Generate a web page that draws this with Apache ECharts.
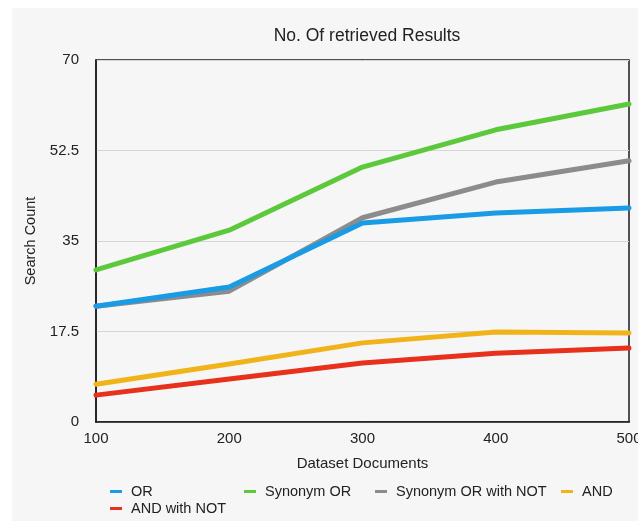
<!DOCTYPE html>
<html>
<head>
<meta charset="utf-8">
<script src="https://cdn.jsdelivr.net/npm/echarts@6/dist/echarts.min.js"></script>
<style>
  html, body { margin: 0; padding: 0; background: #ffffff; }
  #chart { width: 638px; height: 521px; }
</style>
</head>
<body>
<div id="chart"></div>
<script>
// Dataset sizes (x axis) and search counts per query type
const categories = ['100', '200', '300', '400', '500'];
const orValues = [22.4, 26.1, 38.5, 40.4, 41.4];
const synonymOrValues = [29.4, 37.1, 49.3, 56.5, 61.5];
const synonymOrNotValues = [22.4, 25.3, 39.5, 46.4, 50.5];
const andValues = [7.3, 11.2, 15.3, 17.4, 17.2];
const andNotValues = [5.2, 8.3, 11.4, 13.3, 14.3];
const yTicks = [0, 17.5, 35, 52.5, 70];

const FONT = '"Liberation Sans", Arial, Helvetica, sans-serif';
const TEXT = '#222222';

const seriesDefs = [
  { name: 'Synonym OR with NOT', data: synonymOrNotValues, color: '#8c8c8c' },
  { name: 'OR', data: orValues, color: '#1a9be6' },
  { name: 'Synonym OR', data: synonymOrValues, color: '#5cc93c' },
  { name: 'AND', data: andValues, color: '#f0b41a' },
  { name: 'AND with NOT', data: andNotValues, color: '#e8311c' }
];

// one legend entry per slot so the columns line up as laid out
const legendSlots = [
  { name: 'OR', left: 110, top: 484 },
  { name: 'Synonym OR', left: 244, top: 484 },
  { name: 'Synonym OR with NOT', left: 375, top: 484 },
  { name: 'AND', left: 561, top: 484 },
  { name: 'AND with NOT', left: 110, top: 501 }
];

const chart = echarts.init(document.getElementById('chart'), null, { renderer: 'canvas' });

chart.setOption({
  backgroundColor: '#ffffff',
  animation: false,
  textStyle: { fontFamily: FONT },
  graphic: [{
    type: 'rect',
    z: -10,
    silent: true,
    shape: { x: 12, y: 8, width: 640, height: 520 },
    style: { fill: '#f6f6f6' }
  }],
  title: {
    text: 'No. Of retrieved Results',
    left: 362,
    textAlign: 'center',
    top: 22,
    textStyle: { fontFamily: FONT, fontSize: 17.5, fontWeight: 'normal', color: TEXT }
  },
  legend: legendSlots.map(s => ({
    data: [s.name],
    left: s.left,
    top: s.top,
    padding: 0,
    itemWidth: 12,
    itemHeight: 3,
    icon: 'rect',
    selectedMode: false,
    textStyle: { fontFamily: FONT, fontSize: 14.5, color: TEXT, padding: [0, 0, 0, 4] }
  })),
  grid: {
    left: 96,
    right: 9,
    top: 60,
    bottom: 99,
    outerBoundsMode: 'none',
    containLabel: false,
    show: true,
    borderColor: '#1a1a1a',
    borderWidth: 1.5,
    backgroundColor: 'transparent'
  },
  xAxis: {
    type: 'category',
    data: categories,
    boundaryGap: false,
    name: 'Dataset Documents',
    nameLocation: 'middle',
    nameGap: 34,
    nameTextStyle: { fontFamily: FONT, fontSize: 15, color: TEXT },
    axisLine: { show: true, lineStyle: { color: '#1a1a1a', width: 1.5 } },
    axisTick: { show: false },
    axisLabel: { fontFamily: FONT, fontSize: 15, color: TEXT, margin: 9 },
    splitLine: { show: false }
  },
  yAxis: {
    type: 'value',
    min: yTicks[0],
    max: yTicks[yTicks.length - 1],
    interval: yTicks[1] - yTicks[0],
    name: 'Search Count',
    nameLocation: 'middle',
    nameGap: 54,
    nameRotate: 90,
    nameTextStyle: { fontFamily: FONT, fontSize: 14.5, color: TEXT },
    axisLine: { show: true, lineStyle: { color: '#1a1a1a', width: 1.5 } },
    axisTick: { show: false },
    axisLabel: { fontFamily: FONT, fontSize: 15, color: TEXT, margin: 17 },
    splitLine: { show: true, lineStyle: { color: '#d6d6d6', width: 1 } }
  },
  series: seriesDefs.map(s => ({
    name: s.name,
    type: 'line',
    data: s.data,
    symbol: 'none',
    smooth: false,
    color: s.color,
    lineStyle: { color: s.color, width: 5, cap: 'round', join: 'round' },
    clip: true
  }))
});
</script>
</body>
</html>
